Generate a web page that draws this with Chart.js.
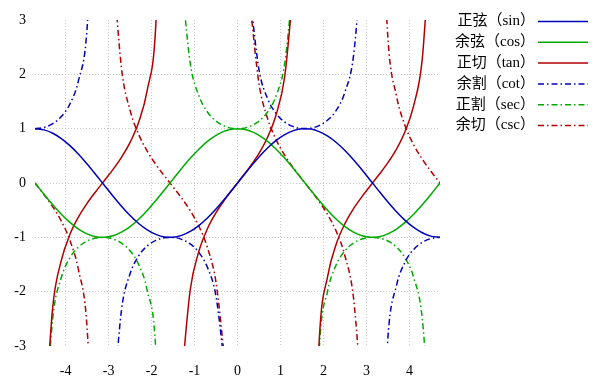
<!DOCTYPE html>
<html>
<head>
<meta charset="utf-8">
<script src="https://cdn.jsdelivr.net/npm/chart.js@4/dist/chart.umd.min.js"></script>
<style>
  html, body { margin: 0; padding: 0; background: #fff; }
  #wrap { width: 600px; height: 391px; position: relative; }
</style>
</head>
<body>
<div id="wrap"><canvas id="c"></canvas></div>
<script>
// x samples (radians); null = curve off the chart near an asymptote
const xs = [-4.71, -4.5, -4.3, -4.1, -3.9, -3.7, -3.5, -3.3, -3.1, -2.9, -2.7, -2.5, -2.3, -2.1, -1.9, -1.7,
  -1.5, -1.3, -1.1, -0.9, -0.7, -0.5, -0.3, -0.1, 0.1, 0.3, 0.5, 0.7, 0.9, 1.1, 1.3, 1.5,
  1.7, 1.9, 2.1, 2.3, 2.5, 2.7, 2.9, 3.1, 3.3, 3.5, 3.7, 3.9, 4.1, 4.3, 4.5, 4.71];

const sinY = [1.0, 0.9775, 0.9162, 0.8183, 0.6878, 0.5298, 0.3508, 0.1577, -0.0416, -0.2392, -0.4274, -0.5985, -0.7457, -0.8632, -0.9463, -0.9917,
  -0.9975, -0.9636, -0.8912, -0.7833, -0.6442, -0.4794, -0.2955, -0.0998, 0.0998, 0.2955, 0.4794, 0.6442, 0.7833, 0.8912, 0.9636, 0.9975,
  0.9917, 0.9463, 0.8632, 0.7457, 0.5985, 0.4274, 0.2392, 0.0416, -0.1577, -0.3508, -0.5298, -0.6878, -0.8183, -0.9162, -0.9775, -1.0];

const cosY = [-0.0016, -0.2108, -0.4008, -0.5748, -0.7259, -0.8481, -0.9365, -0.9875, -0.9991, -0.9710, -0.9041, -0.8011, -0.6663, -0.5048, -0.3233, -0.1288,
  0.0707, 0.2675, 0.4536, 0.6216, 0.7648, 0.8776, 0.9553, 0.9950, 0.9950, 0.9553, 0.8776, 0.7648, 0.6216, 0.4536, 0.2675, 0.0707,
  -0.1288, -0.3233, -0.5048, -0.6663, -0.8011, -0.9041, -0.9710, -0.9991, -0.9875, -0.9365, -0.8481, -0.7259, -0.5748, -0.4008, -0.2108, -0.0016];

const tanY = [null, -4.6373, -2.2858, -1.4236, -0.9474, -0.6247, -0.3746, -0.1597, 0.0416, 0.2464, 0.4727, 0.7470, 1.119, 1.710, 2.927, 7.697,
  null, -3.6021, -1.9648, -1.2602, -0.8423, -0.5463, -0.3093, -0.1003, 0.1003, 0.3093, 0.5463, 0.8423, 1.2602, 1.9648, 3.6021, null,
  -7.697, -2.927, -1.710, -1.119, -0.7470, -0.4727, -0.2464, -0.0416, 0.1597, 0.3746, 0.6247, 0.9474, 1.4236, 2.2858, 4.6373, null];

const cscY = [1.0, 1.0230, 1.0915, 1.2220, 1.4539, 1.8875, 2.851, 6.341, null, -4.181, -2.340, -1.6709, -1.3410, -1.1585, -1.0567, -1.0084,
  -1.0025, -1.0378, -1.1221, -1.2766, -1.552, -2.086, -3.384, null, null, 3.384, 2.086, 1.552, 1.2766, 1.1221, 1.0378, 1.0025,
  1.0084, 1.0567, 1.1585, 1.3410, 1.6709, 2.340, 4.181, null, -6.341, -2.851, -1.8875, -1.4539, -1.2220, -1.0915, -1.0230, -1.0];

const secY = [null, -4.744, -2.495, -1.7397, -1.3776, -1.1791, -1.0678, -1.0127, -1.0009, -1.0299, -1.1061, -1.248, -1.501, -1.981, -3.093, -7.764,
  null, 3.738, 2.2046, 1.6087, 1.3075, 1.1395, 1.0468, 1.0050, 1.0050, 1.0468, 1.1395, 1.3075, 1.6087, 2.2046, 3.738, null,
  -7.764, -3.093, -1.981, -1.501, -1.248, -1.1061, -1.0299, -1.0009, -1.0127, -1.0678, -1.1791, -1.3776, -1.7397, -2.495, -4.744, null];

const cotY = [-0.0016, -0.2157, -0.4375, -0.7024, -1.0554, -1.601, -2.670, -6.262, null, 4.0592, 2.1154, 1.3386, 0.8935, 0.5848, 0.3416, 0.1299,
  -0.0709, -0.2776, -0.5090, -0.7936, -1.187, -1.830, -3.233, null, null, 3.233, 1.830, 1.187, 0.7936, 0.5090, 0.2776, 0.0709,
  -0.1299, -0.3416, -0.5848, -0.8935, -1.3386, -2.1154, -4.0592, null, 6.262, 2.670, 1.601, 1.0554, 0.7024, 0.4375, 0.2157, 0.0016];

const labels = ["正弦（sin）", "余弦（cos）", "正切（tan）", "余割（cot）", "正割（sec）", "余切（csc）"];
const xTicks = [-4, -3, -2, -1, 0, 1, 2, 3, 4];

const BLUE = "#0000b8", GREEN = "#00aa00", RED = "#b00000";
const DASHDOT = [6, 3, 1.5, 3];
const FONT = '"Liberation Serif", "Noto Sans CJK SC", serif';

const pts = ys => xs.map((x, i) => ({x, y: ys[i]}));
const line = (label, ys, color, dash) => ({
  label, data: pts(ys), borderColor: color, borderWidth: 1.5, borderDash: dash || [],
  pointRadius: 0, fill: false, spanGaps: false, cubicInterpolationMode: "monotone"
});

// legend drawn like the original: text first, line sample after it
const sideLegend = {
  id: "sideLegend",
  afterDraw(chart) {
    const ctx = chart.ctx;
    ctx.save();
    ctx.font = "15px " + FONT;
    ctx.textAlign = "right"; ctx.textBaseline = "middle";
    chart.data.datasets.forEach((ds, i) => {
      const y = 21.5 + i * 20.8;
      ctx.fillStyle = "#000";
      ctx.fillText(ds.label, 535, y);
      ctx.strokeStyle = ds.borderColor; ctx.lineWidth = 1.5;
      ctx.setLineDash(ds.borderDash);
      ctx.beginPath(); ctx.moveTo(538, y); ctx.lineTo(588, y); ctx.stroke();
    });
    ctx.restore();
  }
};

new Chart(document.getElementById("c"), {
  type: "line",
  data: {datasets: [
    line(labels[0], sinY, BLUE),
    line(labels[1], cosY, GREEN),
    line(labels[2], tanY, RED),
    line(labels[3], cscY, BLUE, DASHDOT),
    line(labels[4], secY, GREEN, DASHDOT),
    line(labels[5], cotY, RED, DASHDOT),
  ]},
  options: {
    responsive: true, maintainAspectRatio: false, animation: false,
    layout: {padding: {top: 20, right: 160, left: 0, bottom: 0}},
    plugins: {legend: {display: false}, tooltip: {enabled: false}},
    scales: {
      x: {
        type: "linear", min: -4.7124, max: 4.7124,
        afterBuildTicks: s => { s.ticks = xTicks.map(v => ({value: v})); },
        afterFit: s => { s.height = 45; },
        grid: {color: "#c8c8c8", lineWidth: 1, drawTicks: false},
        border: {display: false, dash: [1, 2]},
        ticks: {color: "#000", padding: 17, font: {family: FONT, size: 14}, maxRotation: 0}
      },
      y: {
        min: -3, max: 3,
        ticks: {stepSize: 1, color: "#000", padding: 9, font: {family: FONT, size: 14}},
        afterFit: s => { s.width = 35; },
        grid: {color: c => (c.tick && Math.abs(c.tick.value) === 3) ? "rgba(0,0,0,0)" : "#c8c8c8", lineWidth: 1, drawTicks: false},
        border: {display: false, dash: [1, 2]}
      }
    }
  },
  plugins: [sideLegend]
});
</script>
</body>
</html>
